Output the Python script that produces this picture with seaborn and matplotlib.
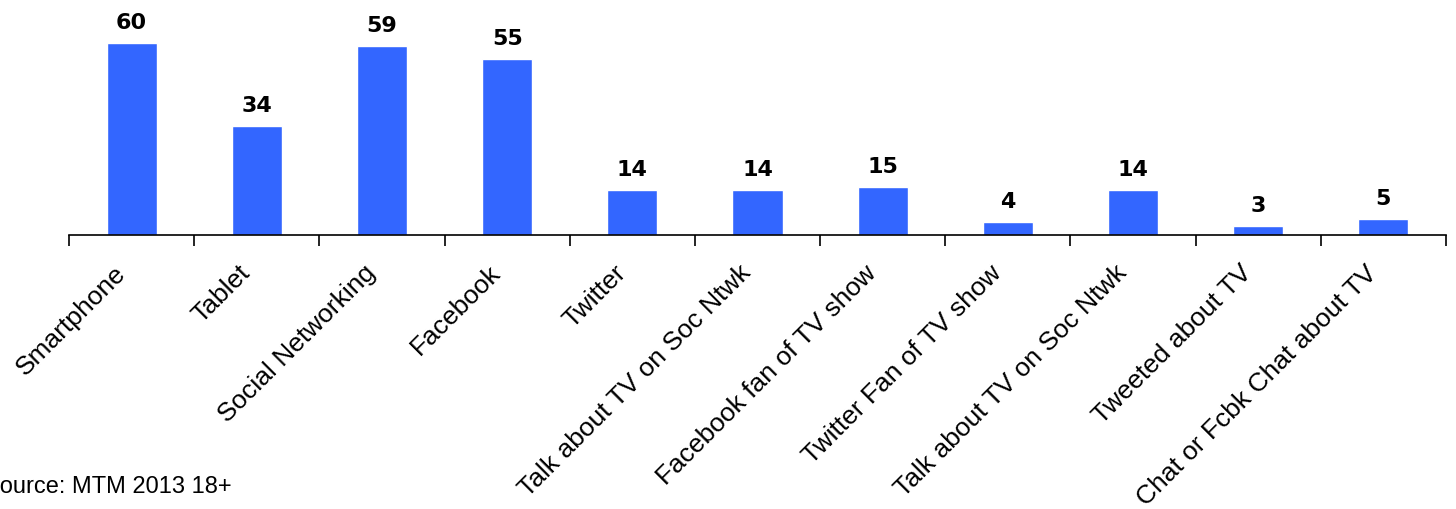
import matplotlib
matplotlib.use("Agg")
import matplotlib.pyplot as plt
import seaborn as sns
import pandas as pd
import numpy as np

# 데이터
categories = ["Smartphone", "Tablet", "Social Networking", "Facebook", "Twitter",
              "Talk about TV on Soc Ntwk", "Facebook fan of TV show",
              "Twitter Fan of TV show", "Talk about TV on Soc Ntwk ",
              "Tweeted about TV", "Chat or Fcbk Chat about TV"]
values = [60, 34, 59, 55, 14, 14, 15, 4, 14, 3, 5]
tick_labels = [c.strip() for c in categories]

df = pd.DataFrame({"category": categories, "value": values})

sns.set_style("white")
plt.rcParams["font.family"] = ["Liberation Sans", "DejaVu Sans"]
plt.rcParams["text.color"] = "black"
plt.rcParams["xtick.color"] = "black"
plt.rcParams["axes.edgecolor"] = "black"

fig = plt.figure(figsize=(14.56, 5.10), dpi=100)
ax = fig.add_axes([0.0474, 0.537, 0.9457, 0.463])

sns.barplot(data=df, x="category", y="value", color="#3366FF", saturation=1,
            width=0.4, ax=ax)

# 값 라벨
for i, v in enumerate(values):
    ax.text(i, v + 3.4, str(v), ha="center", va="bottom", fontsize=16,
            fontweight="bold", family="DejaVu Sans", color="black")

ax.set_ylim(0, 73.75)
ax.set_xlim(-0.5, len(values) - 0.5)
ax.set_yticks([])
ax.set_xlabel("")
ax.set_ylabel("")

for s in ["top", "right", "left"]:
    ax.spines[s].set_visible(False)
ax.spines["bottom"].set_linewidth(1.2)

# 눈금: 경계에 표시, 라벨은 중앙(약간 왼쪽)에
n = len(values)
ax.set_xticks(np.arange(-0.5, n, 1.0))
ax.set_xticklabels([])
ax.tick_params(axis="x", which="major", direction="out", length=8, width=1.2,
               bottom=True)
ax.set_xticks(np.arange(n) - 0.08, minor=True)
ax.set_xticklabels(tick_labels, minor=True, rotation=45, ha="right", va="center",
                   rotation_mode="anchor", fontsize=19)
ax.tick_params(axis="x", which="minor", length=0, pad=24)

fig.text(-0.011, 0.045, "Source: MTM 2013 18+", fontsize=17, ha="left",
         va="center")

fig.savefig("out.png", dpi=100)
